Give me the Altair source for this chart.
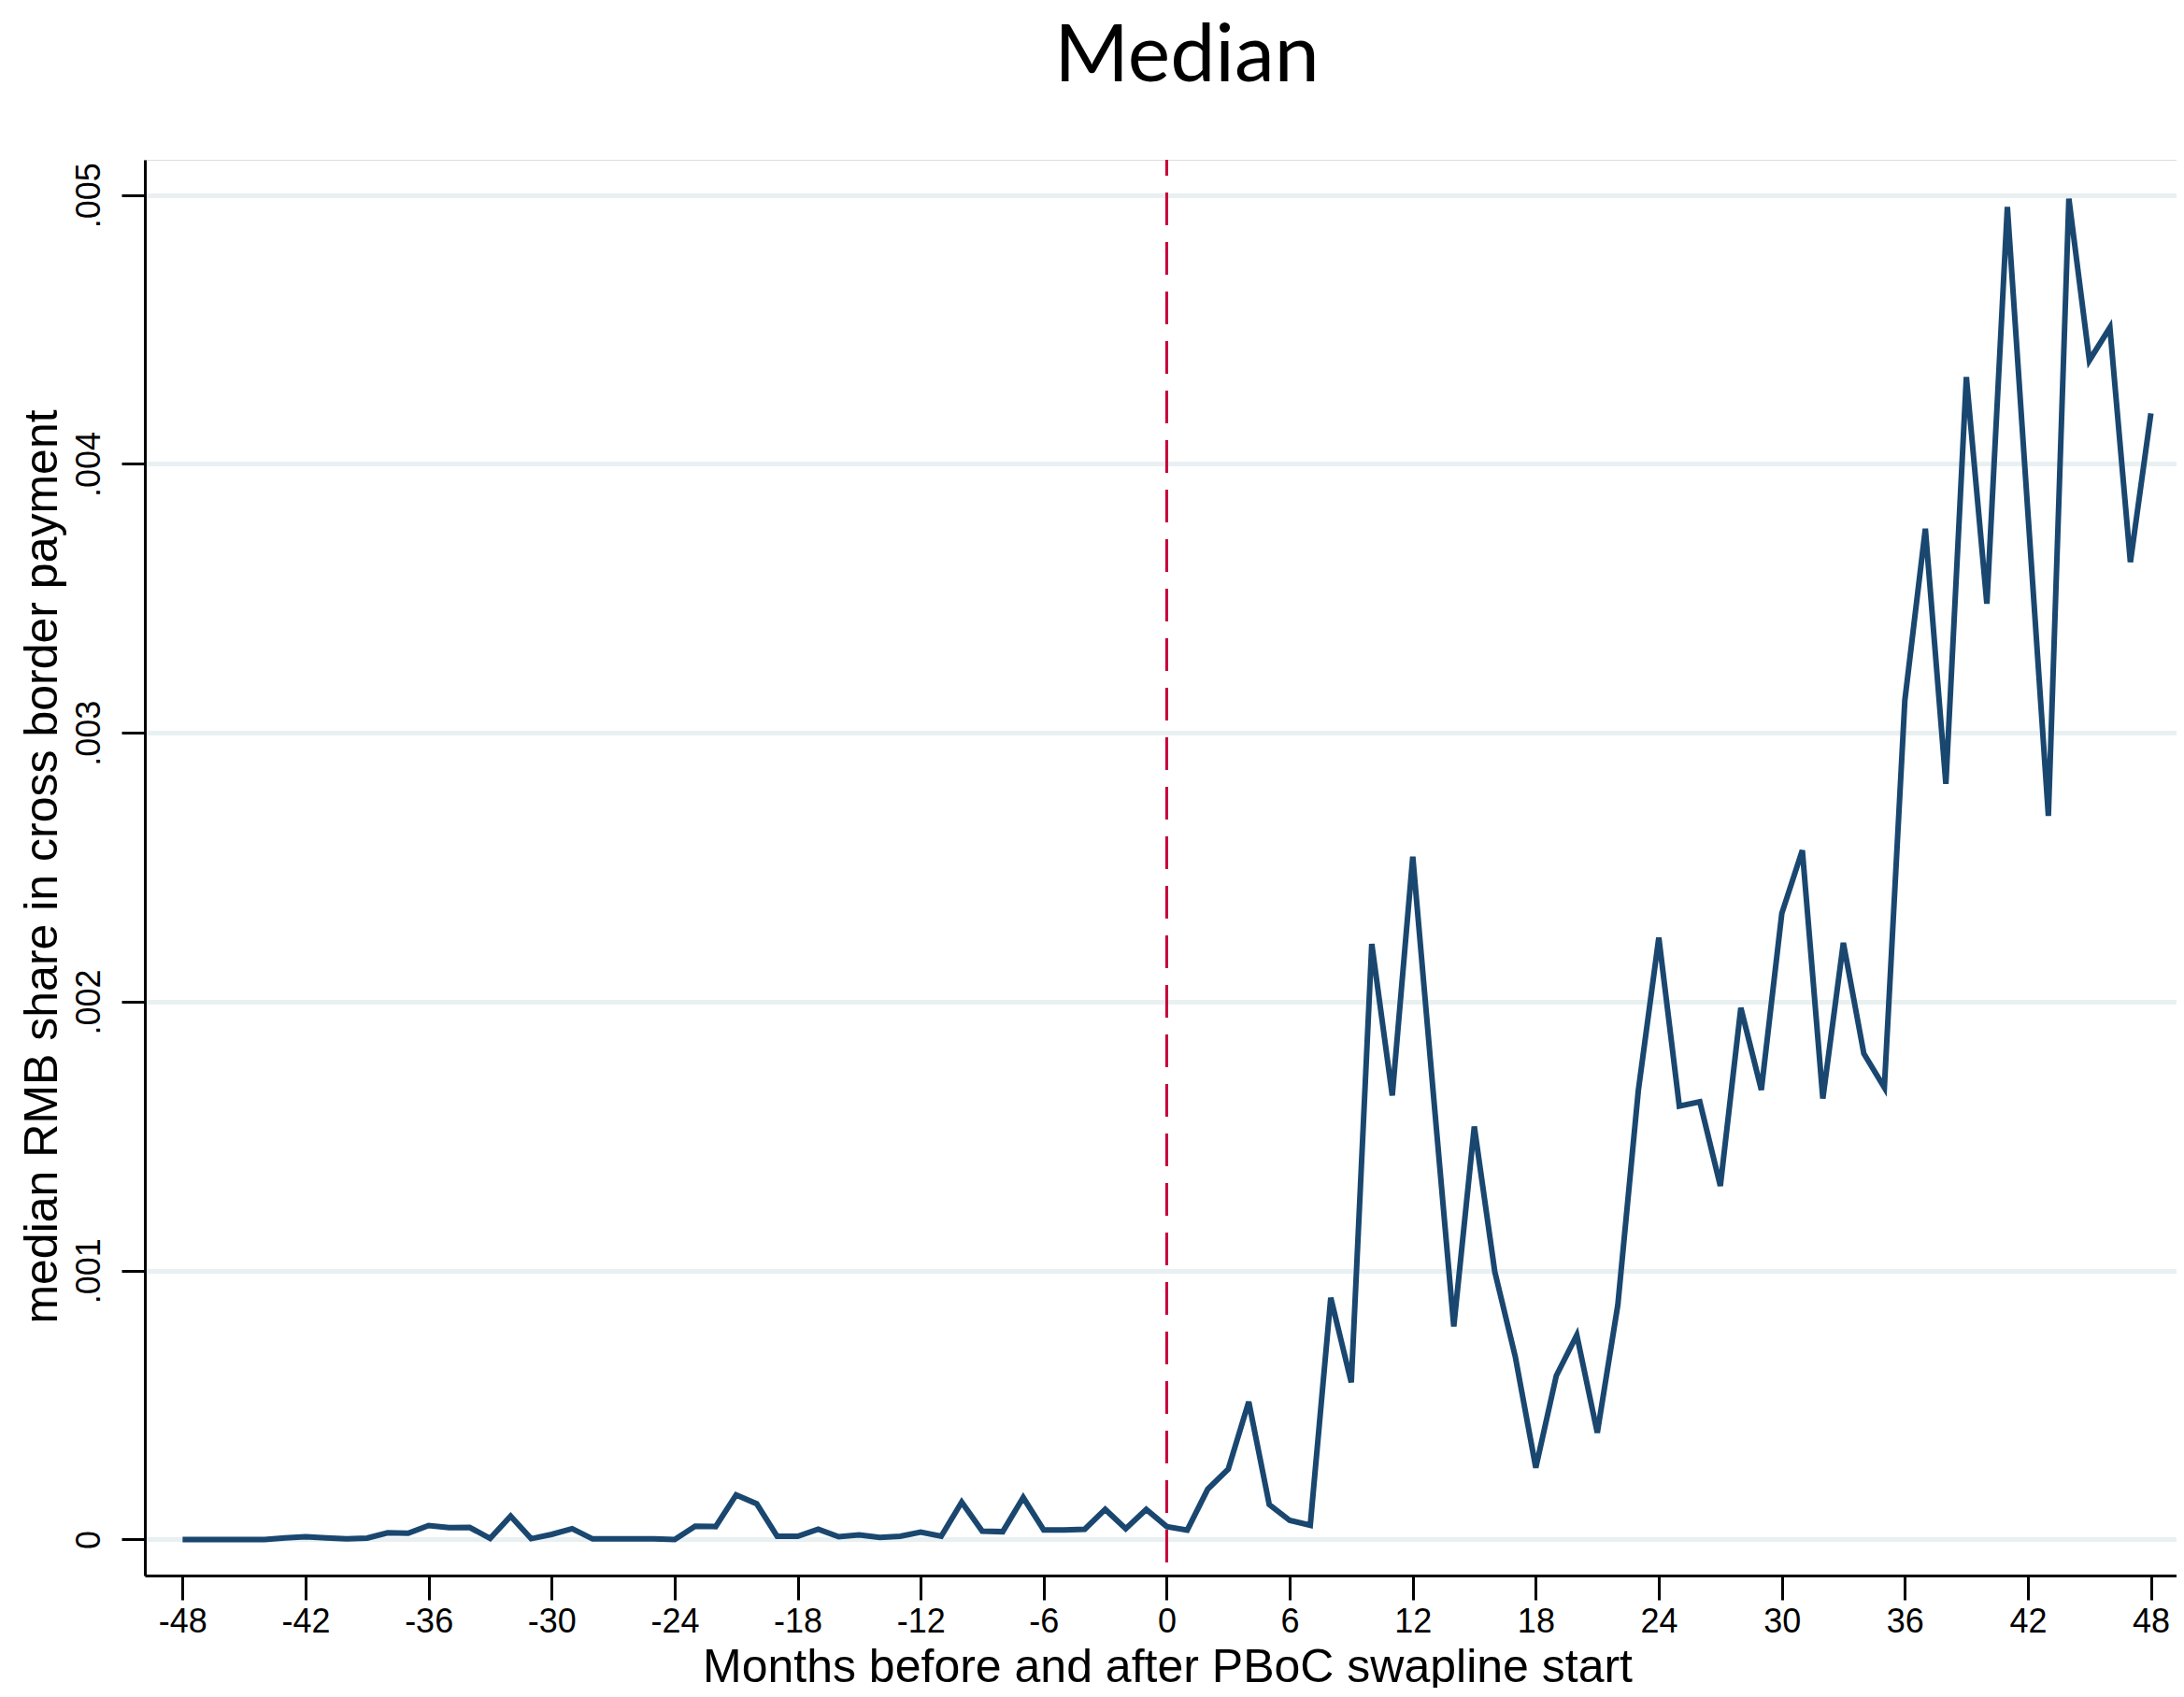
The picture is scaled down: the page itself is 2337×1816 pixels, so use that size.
import altair as alt
import pandas as pd

# Months relative to PBoC swapline start
months = list(range(-48, 49))

# Median RMB share in cross-border payments
median_share = [
    0.000000, 0.000000, 0.000000, 0.000000, 0.000000, 0.000006, 0.000010, 0.000006,  # -48..-41
    0.000002, 0.000005, 0.000025, 0.000023, 0.000052, 0.000044, 0.000045, 0.000004,  # -40..-33
    0.000087, 0.000003, 0.000019, 0.000040, 0.000002, 0.000002, 0.000002, 0.000002,  # -32..-25
    0.000000, 0.000049, 0.000048, 0.000166, 0.000133, 0.000012, 0.000012, 0.000038,  # -24..-17
    0.000010, 0.000017, 0.000008, 0.000012, 0.000027, 0.000012, 0.000139, 0.000031,  # -16..-9
    0.000029, 0.000156, 0.000035, 0.000035, 0.000038, 0.000112, 0.000040, 0.000112,  # -8..-1
    0.000048, 0.000035, 0.000187, 0.000262, 0.000512, 0.000130, 0.000071, 0.000053,  # 0..7
    0.000899, 0.000584, 0.002215, 0.001651, 0.002539, 0.001660, 0.000792, 0.001536,  # 8..15
    0.000996, 0.000680, 0.000267, 0.000609, 0.000760, 0.000397, 0.000872, 0.001669,  # 16..23
    0.002238, 0.001612, 0.001628, 0.001315, 0.001977, 0.001672, 0.002329, 0.002563,  # 24..31
    0.001640, 0.002219, 0.001807, 0.001681, 0.003121, 0.003759, 0.002810, 0.004323,  # 32..39
    0.003480, 0.004956, 0.003820, 0.002691, 0.004986, 0.004385, 0.004507, 0.003635,  # 40..47
    0.004188,                                                                          # 48
]

x_ticks = list(range(-48, 49, 6))
y_ticks = [0, 0.001, 0.002, 0.003, 0.004, 0.005]
event_month = [0]
title_text = ["Median"]

df = pd.DataFrame({"month": months, "share": median_share})
df_event = pd.DataFrame({"month": event_month})
df_title = pd.DataFrame({"label": title_text})

W, H = 2174, 1515
x_scale = alt.Scale(domain=[-49.84, 49.25], nice=False, zero=False)
y_scale = alt.Scale(domain=[-0.000134, 0.005131], nice=False, zero=False)

FONT = "Liberation Sans"

x_axis = alt.Axis(
    values=x_ticks, grid=False, title="Months before and after PBoC swapline start",
    labelExpr="'' + datum.value",
    labelFont=FONT, labelFontSize=36, labelColor="black", labelPadding=6,
    tickColor="black", tickWidth=3, tickSize=26,
    domainColor="black", domainWidth=3,
    titleFont=FONT, titleFontSize=50, titleFontWeight="normal", titleColor="black",
    titleX=1094, titleY=98, titleAlign="center", titleBaseline="middle",
)
y_axis = alt.Axis(
    values=y_ticks, grid=True, gridColor="#E8F0F2", gridWidth=5,
    title="median RMB share in cross border payment",
    labelExpr="datum.value == 0 ? '0' : substring(format(datum.value, '.3f'), 1)",
    labelFont=FONT, labelFontSize=36, labelColor="black",
    labelAngle=270, labelAlign="center", labelBaseline="alphabetic", labelPadding=24,
    tickColor="black", tickWidth=3, tickSize=25,
    domainColor="black", domainWidth=3,
    titleFont=FONT, titleFontSize=50, titleFontWeight="normal", titleColor="black",
    titleAngle=270, titleX=-110, titleY=756, titleAlign="center", titleBaseline="middle",
)

rule = alt.Chart(df_event).mark_rule(
    color="#C8003A", strokeWidth=3, strokeDash=[35, 18], strokeDashOffset=18
).encode(x=alt.X("month:Q", scale=x_scale, axis=x_axis))

line = alt.Chart(df).mark_line(color="#1A476F", strokeWidth=6).encode(
    x=alt.X("month:Q", scale=x_scale, axis=x_axis),
    y=alt.Y("share:Q", scale=y_scale, axis=y_axis),
)

title = alt.Chart(df_title).mark_text(
    font="Lato", fontSize=86, color="black", align="center", baseline="alphabetic"
).encode(text="label:N", x=alt.value(1115), y=alt.value(-84))

chart = alt.layer(rule, line, title).properties(
    width=W, height=H,
    autosize=alt.AutoSizeParams(type="none"),
    padding={"left": 147, "top": 163, "right": 0, "bottom": 120},
).configure_view(strokeWidth=0).configure(background="white")

chart.save("out.html", embed_options={"renderer": "svg", "actions": False})
